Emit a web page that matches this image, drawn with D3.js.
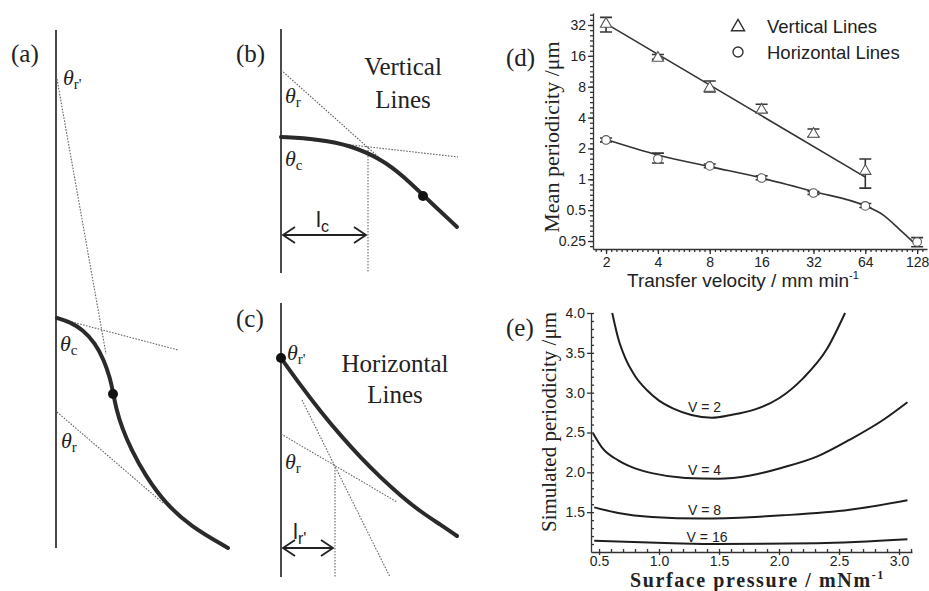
<!DOCTYPE html>
<html><head><meta charset="utf-8">
<script src="https://cdn.jsdelivr.net/npm/d3@7"></script>
<style>body{margin:0;background:#fff}svg{display:block}</style>
</head><body>
<svg id="c" width="929" height="591"></svg>
<script>
// ---------- Panel (d) data ----------
const velocities = [2, 4, 8, 16, 32, 64];
const vertMean = [33.5, 15.6, 7.94, 4.86, 2.83, 1.23];
const vertLo   = [27.3, 14.8, 7.1, 4.5, 2.6, 0.82];
const vertHi   = [38, 16.5, 9.1, 5.4, 3.1, 1.58];
const horizVel  = [2, 4, 8, 16, 32, 64, 128];
const horizMean = [2.42, 1.58, 1.35, 1.03, 0.735, 0.55, 0.245];
const horizLo   = [2.32, 1.44, 1.30, 0.99, 0.71, 0.53, 0.22];
const horizHi   = [2.53, 1.80, 1.41, 1.08, 0.76, 0.58, 0.27];
const vertFitX = [2, 64];
const vertFitY = [33, 1.05];
const horizFitX = [2, 4, 8, 16, 32, 64, 81, 102, 121, 128];
const horizFitY = [2.45, 1.73, 1.33, 1.03, 0.76, 0.55, 0.45, 0.32, 0.245, 0.222];
const dTicksX = [2, 4, 8, 16, 32, 64, 128];
const dTicksY = [0.25, 0.5, 1, 2, 4, 8, 16, 32];
const dTickLabelsY = ["0.25", "0.5", "1", "2", "4", "8", "16", "32"];
const legendLabels = ["Vertical Lines", "Horizontal Lines"];

// ---------- Panel (e) data ----------
const pressV2 = [0.61, 0.66, 0.72, 0.80, 0.90, 1.0, 1.12, 1.27, 1.44, 1.6, 1.8, 2.0, 2.2, 2.4, 2.55];
const periodV2 = [4.0, 3.68, 3.43, 3.21, 3.03, 2.90, 2.80, 2.72, 2.685, 2.72, 2.79, 2.93, 3.18, 3.55, 4.0];
const pressV4 = [0.45, 0.525, 0.66, 0.8, 0.94, 1.22, 1.49, 1.76, 2.03, 2.32, 2.59, 2.87, 3.07];
const periodV4 = [2.49, 2.31, 2.15, 2.05, 1.99, 1.93, 1.92, 1.96, 2.06, 2.20, 2.41, 2.66, 2.88];
const pressV8 = [0.46, 0.66, 0.94, 1.36, 1.8, 2.03, 2.59, 3.07];
const periodV8 = [1.56, 1.49, 1.44, 1.42, 1.44, 1.46, 1.53, 1.65];
const pressV16 = [0.46, 1.11, 1.49, 2.32, 3.07];
const periodV16 = [1.14, 1.11, 1.10, 1.11, 1.16];
const eCurveLabels = ["V = 2", "V = 4", "V = 8", "V = 16"];
const eLabelAt = [[1.38, 2.82], [1.38, 2.03], [1.38, 1.525], [1.40, 1.19]];
const eTicksX = [0.5, 1.0, 1.5, 2.0, 2.5, 3.0];
const eTicksY = [1.5, 2.0, 2.5, 3.0, 3.5, 4.0];

// ---------- Schematic panels (a)-(c): shapes in local units ----------
const aWall = [[0, 0], [0, 518]];
const aCurve = [[1, 288], [14, 292], [27, 300], [39, 313], [48, 330], [54, 348], [57, 362], [60, 378], [66, 398], [75, 419], [89, 445], [109, 473], [134, 496], [172, 518]];
const aDot = [57, 364];
const aDotted = [[[1, 49], [50, 324]], [[1, 288], [122, 320]], [[1, 382], [107, 473]]];
const bWall = [[0, 0], [0, 244]];
const bCurve = [[0, 108], [36, 110], [69, 116], [102, 131], [122, 147], [142, 166], [176, 198]];
const bDot = [142, 167];
const bDotted = [[[0, 41], [112, 141]], [[0, 108], [177, 128]], [[87, 118], [87, 244]]];
const bArrow = [[2, 206], [85, 206]];
const cWall = [[0, 0], [0, 274]];
const cCurve = [[0, 55], [20, 83], [40, 109], [60, 133], [80, 155], [100, 175], [120, 193], [140, 209], [160, 222], [176, 233]];
const cDot = [0, 55];
const cDotted = [[[21, 97], [109, 274]], [[0, 131], [116, 199]], [[54, 164], [54, 274]]];
const cArrow = [[2, 245], [52, 245]];

const svg = d3.select("#c");
const SERIF = "'Liberation Serif','Times New Roman',serif";
const SANS = "'Liberation Sans',Arial,sans-serif";
const INK = "#222";

// ---------- panel labels ----------
const panelLabels = ["(a)", "(b)", "(c)", "(d)", "(e)"];
const panelLabelPos = [[11, 62], [236, 62], [236, 327], [506, 66], [506, 336]];
svg.selectAll("text.plab").data(panelLabels).join("text")
  .attr("x", (d, i) => panelLabelPos[i][0]).attr("y", (d, i) => panelLabelPos[i][1])
  .attr("font-family", SERIF).attr("font-size", 25).attr("fill", INK).text(d => d);

// ---------- schematic drawing helper ----------
function schematic(ox, oy, wall, curve, dot, dotted, arrow) {
  const sx = d3.scaleLinear().domain([0, 100]).range([ox, ox + 100]);
  const sy = d3.scaleLinear().domain([0, 100]).range([oy, oy + 100]);
  const g = svg.append("g");
  const line = d3.line().x(d => sx(d[0])).y(d => sy(d[1]));
  g.append("path").attr("d", line(wall)).attr("stroke", "#4a4a4a").attr("stroke-width", 2).attr("fill", "none");
  dotted.forEach(seg => g.append("path").attr("d", line(seg)).attr("stroke", "#666")
    .attr("stroke-width", 1.1).attr("stroke-dasharray", "1.6,1.4").attr("fill", "none"));
  g.append("path").attr("d", d3.line().x(d => sx(d[0])).y(d => sy(d[1])).curve(d3.curveBasis)(curve))
    .attr("stroke", "#2a2a2a").attr("stroke-width", 4).attr("fill", "none").attr("stroke-linecap", "round");
  g.append("ellipse").attr("cx", sx(dot[0])).attr("cy", sy(dot[1])).attr("rx", 5).attr("ry", 5).attr("fill", "#111");
  if (arrow) {
    const [p, q] = arrow;
    const y = sy(p[1]), x1 = sx(p[0]), x2 = sx(q[0]);
    g.append("path").attr("d", `M${x1},${y}H${x2}M${x1 + 12},${y - 8}L${x1},${y}L${x1 + 12},${y + 8}M${x2 - 12},${y - 8}L${x2},${y}L${x2 - 12},${y + 8}`)
      .attr("stroke", "#222").attr("stroke-width", 1.8).attr("fill", "none");
  }
  return {g, sx, sy};
}
function theta(g, x, y, sub) {
  const t = g.append("text").attr("x", x).attr("y", y).attr("font-family", SERIF).attr("fill", INK);
  t.append("tspan").attr("font-style", "italic").attr("font-size", 22).text("θ");
  t.append("tspan").attr("font-size", 15).attr("dy", 4).text(sub);
}
function lengthLabel(g, x, y, sub) {
  const t = g.append("text").attr("x", x).attr("y", y).attr("font-family", SANS).attr("fill", INK);
  t.append("tspan").attr("font-size", 22).text("l");
  t.append("tspan").attr("font-size", 16).attr("dy", 5).text(sub);
}

const A = schematic(56, 30, aWall, aCurve, aDot, aDotted, null);
theta(A.g, A.sx(7), A.sy(55), "r'");
theta(A.g, A.sx(4), A.sy(321), "c");
theta(A.g, A.sx(5), A.sy(418), "r");

const B = schematic(281, 29, bWall, bCurve, bDot, bDotted, bArrow);
theta(B.g, B.sx(4), B.sy(74), "r");
theta(B.g, B.sx(4), B.sy(137), "c");
lengthLabel(B.g, B.sx(35), B.sy(198), "c");
B.g.append("text").attr("x", B.sx(122)).attr("y", B.sy(46)).attr("text-anchor", "middle")
  .attr("font-family", SERIF).attr("font-size", 25).attr("fill", INK).text("Vertical");
B.g.append("text").attr("x", B.sx(122)).attr("y", B.sy(79)).attr("text-anchor", "middle")
  .attr("font-family", SERIF).attr("font-size", 25).attr("fill", INK).text("Lines");

const C = schematic(281, 303, cWall, cCurve, cDot, cDotted, cArrow);
theta(C.g, C.sx(6), C.sy(57), "r'");
theta(C.g, C.sx(4), C.sy(166), "r");
lengthLabel(C.g, C.sx(12), C.sy(236), "r'");
C.g.append("text").attr("x", C.sx(114)).attr("y", C.sy(69)).attr("text-anchor", "middle")
  .attr("font-family", SERIF).attr("font-size", 25).attr("fill", INK).text("Horizontal");
C.g.append("text").attr("x", C.sx(114)).attr("y", C.sy(100)).attr("text-anchor", "middle")
  .attr("font-family", SERIF).attr("font-size", 25).attr("fill", INK).text("Lines");

// ---------- Panel (d) ----------
const dx = d3.scaleLog().base(2).domain([1.68, 146]).range([593, 927]);
const dy = d3.scaleLog().base(2).domain([0.209, 41.9]).range([249, 13]);
const gd = svg.append("g");
const minorX = [], minorY = [];
for (let k = 8; k <= 71; k++) minorX.push(Math.pow(2, k / 10));
for (let k = -13; k <= 32; k++) minorY.push(Math.pow(2, k / 6));
gd.append("g").attr("transform", "translate(0,249)")
  .call(d3.axisBottom(dx).tickValues(minorX).tickSize(3).tickFormat(""))
  .call(g => g.select(".domain").remove());
gd.append("g").attr("transform", "translate(593,0)")
  .call(d3.axisLeft(dy).tickValues(minorY).tickSize(3).tickFormat(""))
  .call(g => g.select(".domain").remove());
gd.append("g").attr("transform", "translate(0,249)")
  .call(d3.axisBottom(dx).tickValues(dTicksX).tickSize(5).tickSizeOuter(0).tickPadding(3).tickFormat(d => String(d)))
  .call(g => g.selectAll("text").attr("font-family", SANS).attr("font-size", 14).attr("fill", INK));
gd.append("g").attr("transform", "translate(593,0)")
  .call(d3.axisLeft(dy).tickValues(dTicksY).tickSize(5).tickSizeOuter(0).tickPadding(2).tickFormat((d, i) => dTickLabelsY[i]))
  .call(g => g.selectAll("text").attr("font-family", SANS).attr("font-size", 14).attr("fill", INK));
gd.selectAll(".domain, .tick line").attr("stroke", "#333").attr("stroke-width", 1.3);

const lineD = d3.line().x(d => dx(d[0])).y(d => dy(d[1]));
gd.append("path").attr("d", lineD(vertFitX.map((v, i) => [v, vertFitY[i]])))
  .attr("stroke", "#333").attr("stroke-width", 1.6).attr("fill", "none");
gd.append("path").attr("d", lineD.curve(d3.curveMonotoneX)(horizFitX.map((v, i) => [v, horizFitY[i]])))
  .attr("stroke", "#333").attr("stroke-width", 1.6).attr("fill", "none");

function errBars(xs, lo, hi) {
  xs.forEach((v, i) => {
    const x = dx(v);
    gd.append("path").attr("d", `M${x},${dy(lo[i])}V${dy(hi[i])}M${x - 6},${dy(lo[i])}H${x + 6}M${x - 6},${dy(hi[i])}H${x + 6}`)
      .attr("stroke", "#333").attr("stroke-width", 1.6).attr("fill", "none");
  });
}
errBars(velocities, vertLo, vertHi);
errBars(horizVel, horizLo, horizHi);
const tri = d3.symbol().type(d3.symbolTriangle).size(55);
gd.selectAll("path.vt").data(velocities).join("path")
  .attr("d", tri).attr("transform", (d, i) => `translate(${dx(d)},${dy(vertMean[i]) + 1})`)
  .attr("fill", "#fff").attr("stroke", "#555").attr("stroke-width", 1.1);
gd.selectAll("circle.hc").data(horizVel).join("circle")
  .attr("cx", d => dx(d)).attr("cy", (d, i) => dy(horizMean[i])).attr("r", 4.3)
  .attr("fill", "#fff").attr("stroke", "#555").attr("stroke-width", 1.1);

// legend
gd.append("path").attr("d", d3.symbol().type(d3.symbolTriangle).size(75)).attr("transform", "translate(738,27)")
  .attr("fill", "#fff").attr("stroke", "#333").attr("stroke-width", 1.4);
gd.append("circle").attr("cx", 738).attr("cy", 52).attr("r", 5).attr("fill", "#fff").attr("stroke", "#333").attr("stroke-width", 1.4);
gd.selectAll("text.leg").data(legendLabels).join("text")
  .attr("x", 767).attr("y", (d, i) => 33 + i * 26).attr("font-family", SANS).attr("font-size", 18.5).attr("fill", INK).text(d => d);

// axis titles
gd.append("text").attr("transform", "translate(559,137) rotate(-90)").attr("text-anchor", "middle")
  .attr("font-family", SERIF).attr("font-size", 22).attr("fill", INK).text("Mean periodicity /μm");
const xt = gd.append("text").attr("x", 627).attr("y", 287).attr("font-family", SANS).attr("font-size", 19).attr("fill", INK);
xt.append("tspan").text("Transfer velocity / mm min");
xt.append("tspan").attr("font-size", 11).attr("dy", -8).text("-1");

// ---------- Panel (e) ----------
const ex = d3.scaleLinear().domain([0.433, 3.108]).range([591, 912]);
const ey = d3.scaleLinear().domain([1.0, 4.0]).range([552, 313]);
const ge = svg.append("g");
ge.append("g").attr("transform", "translate(0,552)")
  .call(d3.axisTop(ex).tickValues(d3.range(5, 32).map(k => k / 10)).tickSize(3).tickFormat(""))
  .call(g => g.select(".domain").remove());
ge.append("g").attr("transform", "translate(591,0)")
  .call(d3.axisRight(ey).tickValues(d3.range(11, 41).map(k => k / 10)).tickSize(3).tickFormat(""))
  .call(g => g.select(".domain").remove());
ge.append("g").attr("transform", "translate(0,552)")
  .call(d3.axisBottom(ex).tickValues(eTicksX).tickSize(3).tickSizeOuter(0).tickPadding(1).tickFormat(d3.format(".1f")))
  .call(g => g.selectAll("text").attr("font-family", SANS).attr("font-size", 14).attr("fill", INK));
ge.append("g").attr("transform", "translate(591,0)")
  .call(d3.axisLeft(ey).tickValues(eTicksY).tickSize(4).tickSizeOuter(0).tickPadding(2).tickFormat(d3.format(".1f")))
  .call(g => g.selectAll("text").attr("font-family", SANS).attr("font-size", 14).attr("fill", INK));
ge.selectAll(".domain, .tick line").attr("stroke", "#333").attr("stroke-width", 1.3);

const lineE = d3.line().x(d => ex(d[0])).y(d => ey(d[1])).curve(d3.curveMonotoneX);
[[pressV2, periodV2], [pressV4, periodV4], [pressV8, periodV8], [pressV16, periodV16]].forEach(([xs, ys]) => {
  ge.append("path").attr("d", lineE(xs.map((v, i) => [v, ys[i]])))
    .attr("stroke", "#1e1e1e").attr("stroke-width", 2).attr("fill", "none");
});
ge.selectAll("text.vl").data(eCurveLabels).join("text")
  .attr("x", (d, i) => ex(eLabelAt[i][0])).attr("y", (d, i) => ey(eLabelAt[i][1]) + 5)
  .attr("text-anchor", "middle").attr("font-family", SANS).attr("font-size", 14).attr("fill", INK).text(d => d);

ge.append("text").attr("transform", "translate(556,422) rotate(-90)").attr("text-anchor", "middle")
  .attr("font-family", SERIF).attr("font-size", 21).attr("fill", INK).text("Simulated periodicity /μm");
const et = ge.append("text").attr("x", 630).attr("y", 587).attr("font-family", SERIF).attr("font-weight", "bold").attr("font-size", 20).attr("letter-spacing", 1.6).attr("fill", INK);
et.append("tspan").text("Surface pressure / mNm");
et.append("tspan").attr("font-size", 12).attr("dy", -8).text("-1");
</script>
</body></html>
